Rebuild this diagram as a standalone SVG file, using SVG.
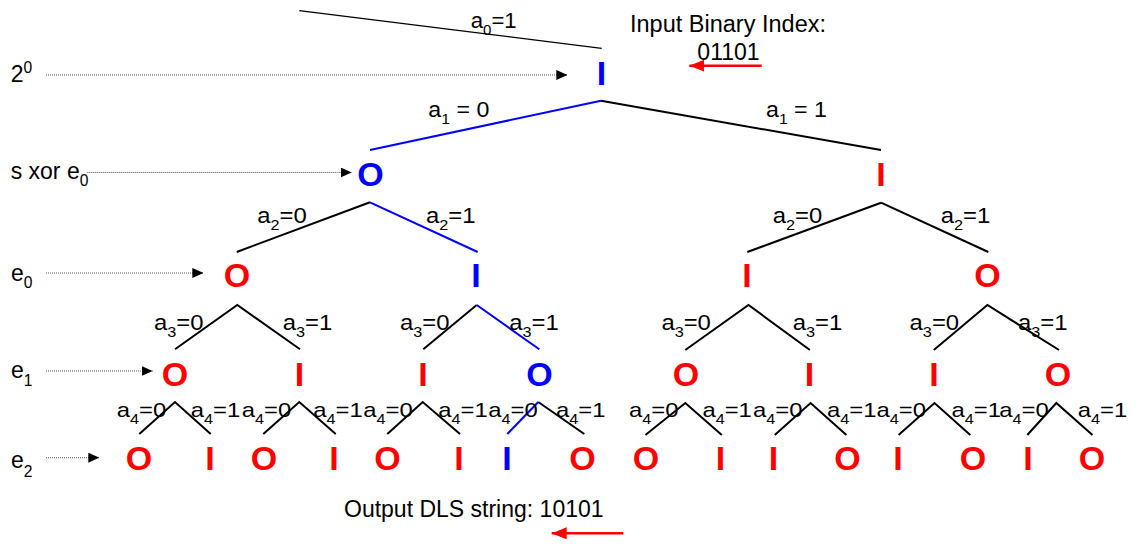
<svg xmlns="http://www.w3.org/2000/svg" width="1135" height="544" viewBox="0 0 1135 544">
<style>
text{font-family:"Liberation Sans",Arial,sans-serif;fill:#000}
.node{font-size:34px;font-weight:bold;text-anchor:middle}
.red{fill:#FF0000}
.blue{fill:#0000FF}
.side{font-size:23px}
.l0{font-size:21.5px}
.l1{font-size:22px}
.l2{font-size:22.5px}
.l4{font-size:21px}
.sub{font-size:0.68em}
.e{stroke:#000;stroke-width:2;fill:none}
.eb{stroke:#0000FF;stroke-width:2;fill:none}
.dot{stroke:#555;stroke-width:1;stroke-dasharray:1 1;fill:none}
.ra{stroke:#FF0000;stroke-width:2.5;fill:none}
</style>
<defs>
<marker id="ah" markerUnits="userSpaceOnUse" markerWidth="11" markerHeight="10" refX="11" refY="5" orient="auto">
<path d="M0,0 L11,5 L0,10 Z" fill="#000"/>
</marker>
<marker id="rh" markerUnits="userSpaceOnUse" markerWidth="15" markerHeight="12" refX="15" refY="6" orient="auto">
<path d="M0,0 L15,6 L0,12 Z" fill="#FF0000"/>
</marker>
</defs>

<g id="connectors">
<line x1="299.3" y1="10.7" x2="601.7" y2="48.3" stroke="#000" stroke-width="1.2"/>
<line class="eb" x1="601" y1="100.7" x2="370" y2="150"/>
<line class="e" x1="601" y1="100.7" x2="881" y2="150"/>
<line class="e" x1="370" y1="202.3" x2="236.7" y2="252"/>
<line class="eb" x1="370" y1="202.3" x2="477.7" y2="252"/>
<line class="e" x1="881" y1="202.7" x2="747.3" y2="252"/>
<line class="e" x1="881" y1="202.7" x2="988.3" y2="252"/>
<path class="e" d="M175,349.3 L237.3,305 L300,349.3"/>
<path class="e" d="M423.3,349.3 L476.7,305"/>
<path class="eb" d="M476.7,305 L539.3,349.3"/>
<path class="e" d="M685.3,350 L748.5,305 L809.9,350"/>
<path class="e" d="M933.8,350 L987.4,305 L1059,350"/>
<path class="e" d="M139.3,434 L175,402 L210.7,434"/>
<path class="e" d="M263.3,434 L299.3,402 L335.7,434"/>
<path class="e" d="M387.3,434 L422.7,402 L460,434"/>
<path class="eb" d="M507.3,434 L538.3,402"/>
<path class="e" d="M538.3,402 L584.3,434"/>
<path class="e" d="M645.4,435 L685.3,403 L721.8,435"/>
<path class="e" d="M774.7,435 L810.6,403 L846.4,435"/>
<path class="e" d="M898.6,435 L934.5,403 L970.3,435"/>
<path class="e" d="M1027.3,435 L1056.3,403 L1092.5,435"/>
<line class="dot" x1="46" y1="75" x2="567.3" y2="75" marker-end="url(#ah)"/>
<line class="dot" x1="87.3" y1="172.5" x2="351.7" y2="172.5" marker-end="url(#ah)"/>
<line class="dot" x1="46" y1="273" x2="203.3" y2="273" marker-end="url(#ah)"/>
<line class="dot" x1="46" y1="371" x2="152.7" y2="371" marker-end="url(#ah)"/>
<line class="dot" x1="46" y1="457.7" x2="99.3" y2="457.7" marker-end="url(#ah)"/>
<line class="ra" x1="761.7" y1="65.7" x2="689.3" y2="65.7" marker-end="url(#rh)"/>
<line class="ra" x1="623.3" y1="533.3" x2="551.7" y2="533.3" marker-end="url(#rh)"/>
</g>

<g id="edge-labels">
<text class="l0" x="470.7" y="28.3" textLength="46" lengthAdjust="spacingAndGlyphs">a<tspan class="sub" dy="7">0</tspan><tspan dy="-7">=1</tspan></text>
<text class="l1" x="428.3" y="117.3" textLength="61" lengthAdjust="spacingAndGlyphs">a<tspan class="sub" dy="7">1</tspan><tspan dy="-7"> = 0</tspan></text>
<text class="l1" x="766" y="117.3" textLength="61" lengthAdjust="spacingAndGlyphs">a<tspan class="sub" dy="7">1</tspan><tspan dy="-7"> = 1</tspan></text>
<text class="l2" x="257.3" y="223.3" textLength="49.5" lengthAdjust="spacingAndGlyphs">a<tspan class="sub" dy="7">2</tspan><tspan dy="-7">=0</tspan></text>
<text class="l2" x="426" y="223.3" textLength="49.5" lengthAdjust="spacingAndGlyphs">a<tspan class="sub" dy="7">2</tspan><tspan dy="-7">=1</tspan></text>
<text class="l2" x="772.7" y="223.3" textLength="49.5" lengthAdjust="spacingAndGlyphs">a<tspan class="sub" dy="7">2</tspan><tspan dy="-7">=0</tspan></text>
<text class="l2" x="940.7" y="223.3" textLength="49.5" lengthAdjust="spacingAndGlyphs">a<tspan class="sub" dy="7">2</tspan><tspan dy="-7">=1</tspan></text>
<text class="l2" x="154" y="329.5" textLength="49.5" lengthAdjust="spacingAndGlyphs">a<tspan class="sub" dy="7">3</tspan><tspan dy="-7">=0</tspan></text>
<text class="l2" x="282.7" y="329.5" textLength="49.5" lengthAdjust="spacingAndGlyphs">a<tspan class="sub" dy="7">3</tspan><tspan dy="-7">=1</tspan></text>
<text class="l2" x="400" y="329.5" textLength="49.5" lengthAdjust="spacingAndGlyphs">a<tspan class="sub" dy="7">3</tspan><tspan dy="-7">=0</tspan></text>
<text class="l2" x="509.3" y="329.5" textLength="49.5" lengthAdjust="spacingAndGlyphs">a<tspan class="sub" dy="7">3</tspan><tspan dy="-7">=1</tspan></text>
<text class="l2" x="661.4" y="329.5" textLength="49.5" lengthAdjust="spacingAndGlyphs">a<tspan class="sub" dy="7">3</tspan><tspan dy="-7">=0</tspan></text>
<text class="l2" x="792.8" y="329.5" textLength="49.5" lengthAdjust="spacingAndGlyphs">a<tspan class="sub" dy="7">3</tspan><tspan dy="-7">=1</tspan></text>
<text class="l2" x="909.6" y="329.5" textLength="49.5" lengthAdjust="spacingAndGlyphs">a<tspan class="sub" dy="7">3</tspan><tspan dy="-7">=0</tspan></text>
<text class="l2" x="1018" y="329.5" textLength="49.5" lengthAdjust="spacingAndGlyphs">a<tspan class="sub" dy="7">3</tspan><tspan dy="-7">=1</tspan></text>
<text class="l4" x="116.7" y="417.3" textLength="49.5" lengthAdjust="spacingAndGlyphs">a<tspan class="sub" dy="7">4</tspan><tspan dy="-7">=0</tspan></text>
<text class="l4" x="190.7" y="417.3" textLength="49.5" lengthAdjust="spacingAndGlyphs">a<tspan class="sub" dy="7">4</tspan><tspan dy="-7">=1</tspan></text>
<text class="l4" x="241.7" y="417.3" textLength="49.5" lengthAdjust="spacingAndGlyphs">a<tspan class="sub" dy="7">4</tspan><tspan dy="-7">=0</tspan></text>
<text class="l4" x="313.3" y="417.3" textLength="49.5" lengthAdjust="spacingAndGlyphs">a<tspan class="sub" dy="7">4</tspan><tspan dy="-7">=1</tspan></text>
<text class="l4" x="363.3" y="417.3" textLength="49.5" lengthAdjust="spacingAndGlyphs">a<tspan class="sub" dy="7">4</tspan><tspan dy="-7">=0</tspan></text>
<text class="l4" x="438.3" y="417.3" textLength="49.5" lengthAdjust="spacingAndGlyphs">a<tspan class="sub" dy="7">4</tspan><tspan dy="-7">=1</tspan></text>
<text class="l4" x="488.3" y="417.3" textLength="49.5" lengthAdjust="spacingAndGlyphs">a<tspan class="sub" dy="7">4</tspan><tspan dy="-7">=0</tspan></text>
<text class="l4" x="556" y="417.3" textLength="49.5" lengthAdjust="spacingAndGlyphs">a<tspan class="sub" dy="7">4</tspan><tspan dy="-7">=1</tspan></text>
<text class="l4" x="629" y="417.3" textLength="49.5" lengthAdjust="spacingAndGlyphs">a<tspan class="sub" dy="7">4</tspan><tspan dy="-7">=0</tspan></text>
<text class="l4" x="702.4" y="417.3" textLength="49.5" lengthAdjust="spacingAndGlyphs">a<tspan class="sub" dy="7">4</tspan><tspan dy="-7">=1</tspan></text>
<text class="l4" x="753" y="417.3" textLength="49.5" lengthAdjust="spacingAndGlyphs">a<tspan class="sub" dy="7">4</tspan><tspan dy="-7">=0</tspan></text>
<text class="l4" x="827" y="417.3" textLength="49.5" lengthAdjust="spacingAndGlyphs">a<tspan class="sub" dy="7">4</tspan><tspan dy="-7">=1</tspan></text>
<text class="l4" x="876.5" y="417.3" textLength="49.5" lengthAdjust="spacingAndGlyphs">a<tspan class="sub" dy="7">4</tspan><tspan dy="-7">=0</tspan></text>
<text class="l4" x="951.5" y="417.3" textLength="49.5" lengthAdjust="spacingAndGlyphs">a<tspan class="sub" dy="7">4</tspan><tspan dy="-7">=1</tspan></text>
<text class="l4" x="999.3" y="417.3" textLength="49.5" lengthAdjust="spacingAndGlyphs">a<tspan class="sub" dy="7">4</tspan><tspan dy="-7">=0</tspan></text>
<text class="l4" x="1077.8" y="417.3" textLength="49.5" lengthAdjust="spacingAndGlyphs">a<tspan class="sub" dy="7">4</tspan><tspan dy="-7">=1</tspan></text>
</g>

<g id="side-labels">
<text class="side" x="10.7" y="81.7">2<tspan class="sub" dy="-8.5" font-size="14">0</tspan></text>
<text class="side" x="10.7" y="179">s xor e<tspan class="sub" dy="7">0</tspan></text>
<text class="side" x="11" y="281">e<tspan class="sub" dy="7">0</tspan></text>
<text class="side" x="11" y="378.3">e<tspan class="sub" dy="7.5">1</tspan></text>
<text class="side" x="11" y="468">e<tspan class="sub" dy="8.5">2</tspan></text>
</g>

<g id="input-label">
<text class="side" x="630" y="32.3" textLength="196" lengthAdjust="spacingAndGlyphs">Input Binary Index:</text>
<text class="side" x="728.5" y="60" text-anchor="middle">01101</text>
</g>
<g id="output-label">
<text class="side" x="344" y="516.7">Output DLS string: 10101</text>
</g>

<g id="n0"><text class="node blue" x="601.5" y="84.7">I</text></g>
<g id="n1L"><text class="node blue" x="370.5" y="186">O</text></g>
<g id="n1R"><text class="node red" x="881" y="186">I</text></g>
<g id="n2a"><text class="node red" x="237" y="287">O</text></g>
<g id="n2b"><text class="node blue" x="476" y="287">I</text></g>
<g id="n2c"><text class="node red" x="747" y="287">I</text></g>
<g id="n2d"><text class="node red" x="987.5" y="287">O</text></g>
<g id="n3a"><text class="node red" x="175" y="386">O</text></g>
<g id="n3b"><text class="node red" x="299.5" y="386">I</text></g>
<g id="n3c"><text class="node red" x="423" y="386">I</text></g>
<g id="n3d"><text class="node blue" x="539.5" y="386">O</text></g>
<g id="n3e"><text class="node red" x="686" y="386">O</text></g>
<g id="n3f"><text class="node red" x="809.4" y="386">I</text></g>
<g id="n3g"><text class="node red" x="934" y="386">I</text></g>
<g id="n3h"><text class="node red" x="1058" y="386">O</text></g>
<g id="n4a"><text class="node red" x="139" y="470">O</text></g>
<g id="n4b"><text class="node red" x="210" y="470">I</text></g>
<g id="n4c"><text class="node red" x="264" y="470">O</text></g>
<g id="n4d"><text class="node red" x="334" y="470">I</text></g>
<g id="n4e"><text class="node red" x="387.5" y="470">O</text></g>
<g id="n4f"><text class="node red" x="459" y="470">I</text></g>
<g id="n4g"><text class="node blue" x="507" y="470">I</text></g>
<g id="n4h"><text class="node red" x="582.5" y="470">O</text></g>
<g id="n4i"><text class="node red" x="646" y="470">O</text></g>
<g id="n4j"><text class="node red" x="720.6" y="470">I</text></g>
<g id="n4k"><text class="node red" x="773.5" y="470">I</text></g>
<g id="n4l"><text class="node red" x="847.6" y="470">O</text></g>
<g id="n4m"><text class="node red" x="898" y="470">I</text></g>
<g id="n4n"><text class="node red" x="973" y="470">O</text></g>
<g id="n4o"><text class="node red" x="1028" y="470">I</text></g>
<g id="n4p"><text class="node red" x="1092" y="470">O</text></g>
</svg>
